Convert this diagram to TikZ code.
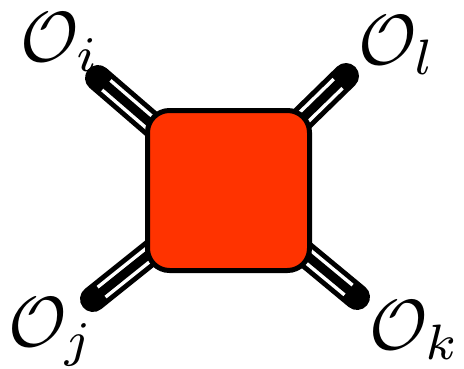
\documentclass[tikz,border=0pt]{standalone}
\usetikzlibrary{calc}
\definecolor{boxred}{RGB}{255,51,0}
\begin{document}
\begin{tikzpicture}[x=1pt,y=-1pt,
  legouter/.style={line width=26pt,line cap=round,black},
  leginner/.style={line width=16pt,white},
  legcore/.style={line width=9pt,black},
  lab/.style={inner sep=0pt,scale=7.1,anchor=base west}]
\useasboundingbox (0,0) rectangle (464,368);
\coordinate (c) at (228.5,190.5);
\coordinate (ti) at (98,78);
\coordinate (tl) at (346,76);
\coordinate (tk) at (357,297);
\coordinate (tj) at (93,299);
\foreach \t in {ti,tl,tk,tj}{
  \draw[legouter] (c) -- (\t);
  \draw[leginner] (c) -- ($(\t)!11pt!(c)$);
  \draw[legcore] (c) -- (\t);
}
\node[draw=black,line width=5pt,fill=boxred,rounded corners=22pt,minimum width=162pt,minimum height=160pt,inner sep=0pt] (box) at (c) {};
\node[lab] (Oi) at (19,61) {$\mathcal{O}_i$};
\node[lab] (Ol) at (357,64) {$\mathcal{O}_l$};
\node[lab] (Oj) at (7,346) {$\mathcal{O}_j$};
\node[lab] (Ok) at (368,349) {$\mathcal{O}_k$};
\end{tikzpicture}
\end{document}
